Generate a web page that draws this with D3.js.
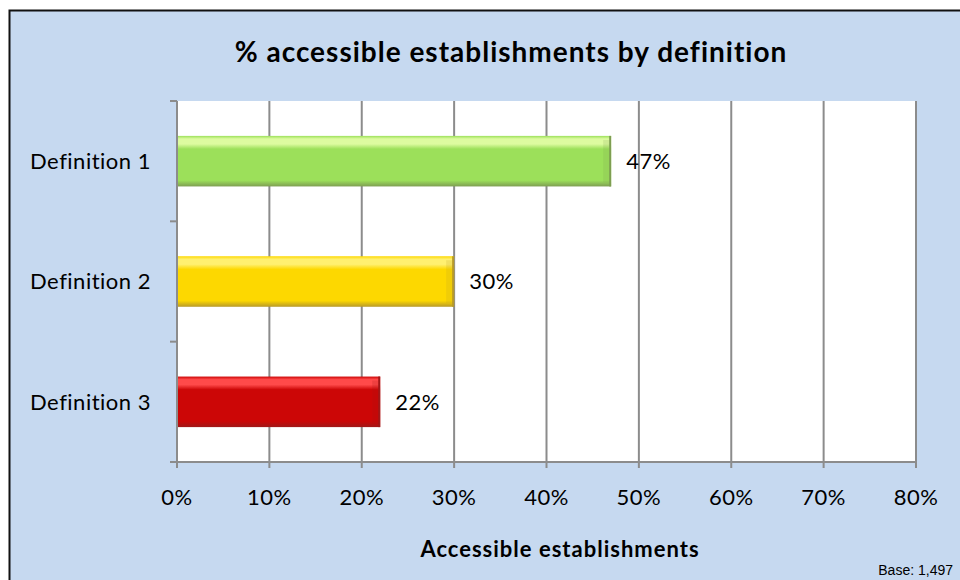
<!DOCTYPE html>
<html><head><meta charset="utf-8">
<script src="https://cdn.jsdelivr.net/npm/d3@7"></script>
<style>body{margin:0;background:#fff}svg{display:block}</style>
</head><body>
<svg id="c" width="960" height="580"></svg>
<script>
const categories = ["Definition 1", "Definition 2", "Definition 3"];
const values = [47, 30, 22];
const tickValues = [0, 10, 20, 30, 40, 50, 60, 70, 80];
const barColors = ["#9ce05a", "#fdd800", "#cc0606"];
const barLight = ["#ddfba0", "#fff070", "#ff4a4a"];
const barDark = ["#7e9e52", "#b89a28", "#a01818"];
const title = "% accessible establishments by definition";
const xTitle = "Accessible establishments";
const baseNote = "Base: 1,497";

const svg = d3.select("#c");
const font = "Lato, 'Open Sans', sans-serif";
svg.append("rect").attr("x",0).attr("y",0).attr("width",960).attr("height",580).attr("fill","#fff");
svg.append("rect").attr("x",9.5).attr("y",10.5).attr("width",960).attr("height",580)
  .attr("fill","#c6d9f0").attr("stroke","#111").attr("stroke-width",2);

const m = {l:177, t:101, r:916, b:462};
const x = d3.scaleLinear().domain([0,80]).range([m.l, m.r]);
const y = d3.scaleBand().domain(categories).range([m.t, m.b]).paddingInner(0.58).paddingOuter(0.29);

svg.append("rect").attr("x",m.l).attr("y",m.t).attr("width",m.r-m.l).attr("height",m.b-m.t).attr("fill","#fff");

// gridlines
svg.append("g").selectAll("line").data(tickValues.filter(d=>d>0)).join("line")
  .attr("x1",d=>x(d)).attr("x2",d=>x(d)).attr("y1",m.t).attr("y2",m.b)
  .attr("stroke","#8c8c8c").attr("stroke-width",2);

// gradients
const defs = svg.append("defs");
categories.forEach((c,i)=>{
  const g = defs.append("linearGradient").attr("id","g"+i).attr("x1",0).attr("y1",0).attr("x2",0).attr("y2",1);
  g.append("stop").attr("offset","0%").attr("stop-color",barColors[i]);
  g.append("stop").attr("offset","6%").attr("stop-color",barLight[i]);
  g.append("stop").attr("offset","16%").attr("stop-color",barLight[i]);
  g.append("stop").attr("offset","26%").attr("stop-color",barColors[i]);
  g.append("stop").attr("offset","88%").attr("stop-color",barColors[i]);
  g.append("stop").attr("offset","100%").attr("stop-color",barDark[i]);
});

const bars = svg.append("g").selectAll("g").data(categories).join("g");
bars.append("rect").attr("x",x(0)).attr("y",d=>y(d)).attr("width",(d,i)=>x(values[i])-x(0)).attr("height",y.bandwidth())
  .attr("fill",(d,i)=>`url(#g${i})`);
bars.append("rect").attr("x",(d,i)=>x(values[i])-2).attr("y",d=>y(d)).attr("width",2).attr("height",y.bandwidth())
  .attr("fill",(d,i)=>barDark[i]);
bars.append("rect").attr("x",(d,i)=>x(values[i])-8).attr("y",d=>y(d)+4).attr("width",6).attr("height",y.bandwidth()-8)
  .attr("fill",(d,i)=>barDark[i]).attr("opacity",0.18);

// value labels
svg.append("g").selectAll("text").data(categories).join("text")
  .attr("x",(d,i)=>x(values[i])+15).attr("y",d=>y(d)+y.bandwidth()/2).attr("dy","0.36em")
  .attr("font-family",font).attr("font-size",22).attr("letter-spacing",0.5).attr("fill","#000").text((d,i)=>values[i]+"%");

// y axis
const ya = svg.append("g").attr("transform",`translate(${m.l},0)`);
ya.append("line").attr("x1",0).attr("x2",0).attr("y1",m.t).attr("y2",m.b).attr("stroke","#8c8c8c").attr("stroke-width",2);
const yTicks = [m.t, ...categories.map(c=>y(c)+y.bandwidth()+y.step()*y.paddingInner()/2).slice(0,2), m.b];
ya.selectAll("line.t").data(yTicks).join("line").attr("class","t")
  .attr("x1",-7).attr("x2",0).attr("y1",d=>d).attr("y2",d=>d).attr("stroke","#8c8c8c").attr("stroke-width",2);
ya.selectAll("text").data(categories).join("text")
  .attr("x",-26).attr("y",d=>y(d)+y.bandwidth()/2).attr("dy","0.36em").attr("text-anchor","end")
  .attr("font-family",font).attr("font-size",22).attr("letter-spacing",0.5).attr("fill","#000").text(d=>d);

// x axis
const xa = svg.append("g").attr("transform",`translate(0,${m.b})`);
xa.append("line").attr("x1",m.l).attr("x2",m.r).attr("stroke","#8c8c8c").attr("stroke-width",2);
xa.selectAll("line.t").data(tickValues).join("line").attr("class","t")
  .attr("x1",d=>x(d)).attr("x2",d=>x(d)).attr("y1",0).attr("y2",6).attr("stroke","#8c8c8c").attr("stroke-width",2);
xa.selectAll("text").data(tickValues).join("text")
  .attr("x",d=>x(d)).attr("y",43).attr("text-anchor","middle")
  .attr("font-family",font).attr("font-size",22).attr("letter-spacing",0.5).attr("fill","#000").text(d=>d+"%");

svg.append("text").attr("x",560).attr("y",557).attr("text-anchor","middle")
  .attr("font-family",font).attr("font-weight","bold").attr("font-size",22).attr("letter-spacing",1).text(xTitle);
svg.append("text").attr("x",511).attr("y",62).attr("text-anchor","middle")
  .attr("font-family",font).attr("font-weight","bold").attr("font-size",28).attr("letter-spacing",1).text(title);
svg.append("text").attr("x",953).attr("y",575).attr("text-anchor","end")
  .attr("font-family","'Liberation Sans', Arial, sans-serif").attr("font-size",14).text(baseNote);
</script>
</body></html>
